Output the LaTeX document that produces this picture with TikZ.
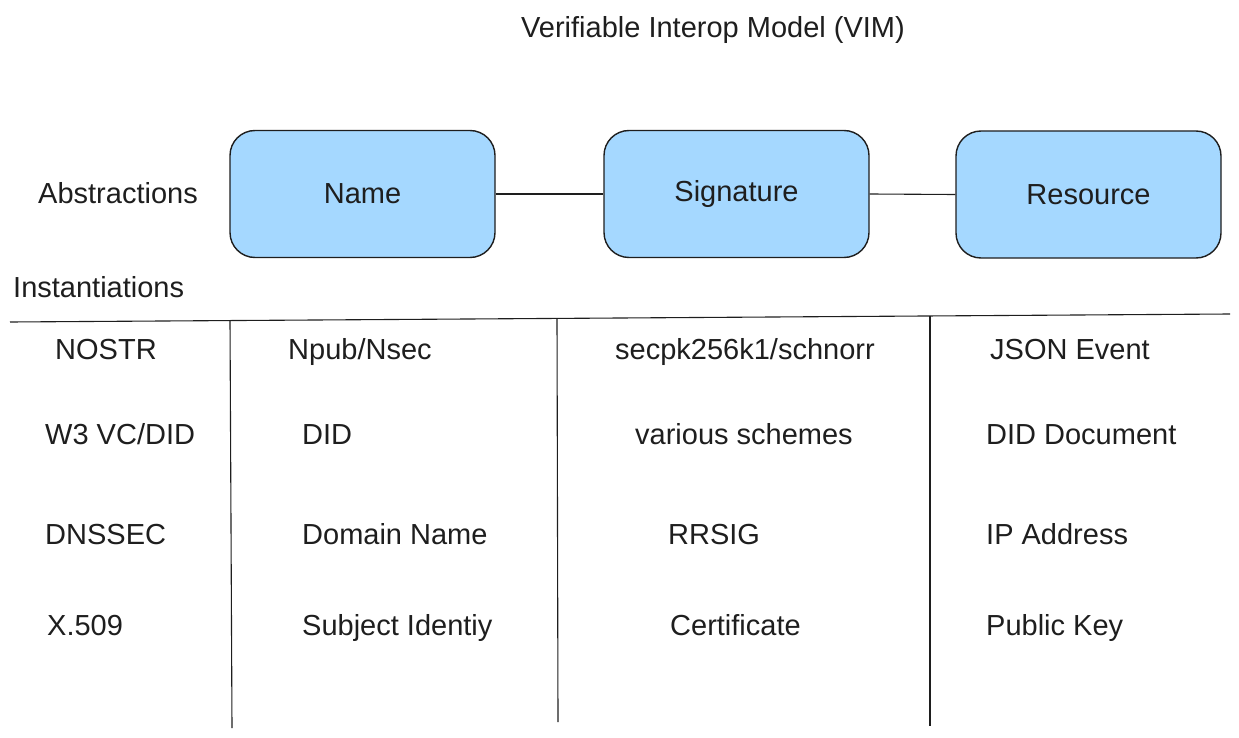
\documentclass[tikz,border=0pt]{standalone}
\usepackage{fontspec}
\setmainfont{Liberation Sans}
\definecolor{ink}{HTML}{1E1E1E}
\definecolor{boxblue}{HTML}{A5D8FF}
\begin{document}
\begin{tikzpicture}[x=1pt,y=-1pt,
  every node/.style={text=ink, font=\fontsize{29}{34}\selectfont},
  absbox/.style={draw=ink, line width=1.4pt, fill=boxblue, rounded corners=25pt,
    minimum width=265pt, minimum height=127pt, inner sep=0pt},
  cell/.style={anchor=base west, inner sep=0pt},
  rule/.style={draw=ink, line width=1.1pt}]
\useasboundingbox (0,0) rectangle (1239,738);
\node (title) at (713,30) {Verifiable Interop Model (VIM)};
% abstractions row
\node (abs) at (118,193) {Abstractions};
\node [absbox] (name) at (362.5,194) {Name};
\node [absbox] (sig) at (736.5,194) {Signature};
\node [absbox] (res) at (1088.5,194.5) {Resource};
\draw [rule] (name.east) -- (sig.west);
\draw [rule] (sig.east) -- (res.west);
\node [cell] (inst) at (13,297) {Instantiations};
% table lines
\coordinate (hl) at (10,322);
\coordinate (hr) at (1230,314);
\draw [rule] (hl) -- (hr);
\coordinate (va) at (230,320);
\coordinate (vb) at (557,318);
\coordinate (vc) at (930,316);
\draw [rule] (va) -- (232,728);
\draw [rule] (vb) -- (558,722);
\draw [rule] (vc) -- (930,726);
% rows
\node [cell] (nostr) at (55,359) {NOSTR};
\node [cell] (w3c) at (45,444) {W3 VC/DID};
\node [cell] (dnssec) at (45,544) {DNSSEC};
\node [cell] (x509) at (47,635) {X.509};
\node [cell] (npub) at (288,359) {Npub/Nsec};
\node [cell] (did) at (302,444) {DID};
\node [cell] (domain) at (302,544) {Domain Name};
\node [cell] (subj) at (302,635) {Subject Identiy};
\node [cell] (secp) at (615,359) {secpk256k1/schnorr};
\node [cell] (various) at (635,444) {various schemes};
\node [cell] (rrsig) at (668,544) {RRSIG};
\node [cell] (cert) at (670,635) {Certificate};
\node [cell] (json) at (990,359) {JSON Event};
\node [cell] (diddoc) at (986,444) {DID Document};
\node [cell] (ip) at (986,544) {IP Address};
\node [cell] (pubkey) at (986,635) {Public Key};
\end{tikzpicture}
\end{document}
